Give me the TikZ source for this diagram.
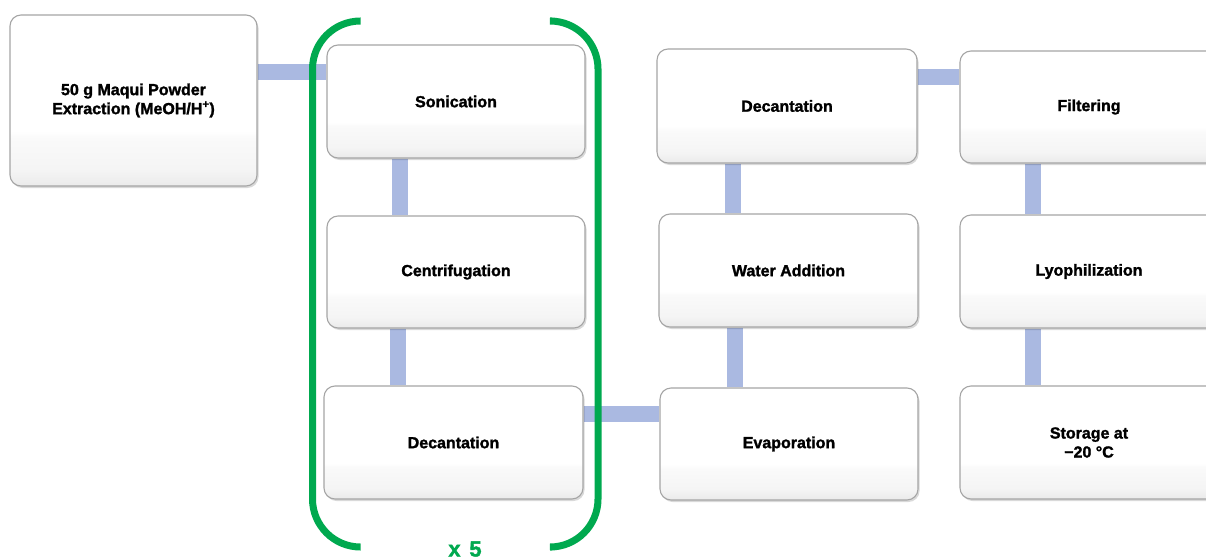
\documentclass[tikz,border=0pt]{standalone}
\usepackage{fontspec}
\setmainfont{Liberation Sans}[BoldFeatures={FakeBold=1.6}]
\usetikzlibrary{shadows}
\pgfdeclarelayer{bg}
\pgfsetlayers{bg,main}
\pgfdeclareverticalshading{boxshade}{100bp}{color(0bp)=(black!10); color(25bp)=(black!8); color(30bp)=(black!4); color(39bp)=(black!2); color(41bp)=(white); color(100bp)=(white)}
\definecolor{connblue}{RGB}{170,185,225}
\definecolor{bracegreen}{RGB}{0,169,79}
\definecolor{boxborder}{RGB}{165,165,165}
\tikzset{
  procbox/.style={draw=boxborder, line width=1.1pt, rounded corners=11pt, shading=boxshade,
    minimum width=258pt, minimum height=113pt, inner sep=0pt, align=center,
    font=\fontsize{16}{19}\selectfont\bfseries,
    drop shadow={shadow xshift=1.5pt, shadow yshift=-2pt, opacity=0.15, fill=black}},
  conn/.style={draw=connblue, line width=16pt},
  bracket/.style={draw=bracegreen, line width=7pt, rounded corners=48pt},
}
\begin{document}
\begin{tikzpicture}[x=1pt,y=-1pt]
\useasboundingbox (0,0) rectangle (1206,559);
\clip (0,0) rectangle (1206,559);
\node[procbox, minimum width=247pt, minimum height=171pt] (A) at (133.5,100.5) {50 g Maqui Powder\\Extraction (MeOH/H\textsuperscript{+})};
\node[procbox] (son) at (456,101.5) {Sonication};
\node[procbox, minimum height=112pt] (cen) at (456,272) {Centrifugation};
\node[procbox, minimum width=259pt] (dec1) at (453.5,442.5) {Decantation};
\node[procbox, minimum width=260pt, minimum height=114pt] (dec2) at (787,106) {Decantation};
\node[procbox, minimum width=259pt] (wat) at (788.5,270.5) {Water Addition};
\node[procbox, minimum height=112pt] (eva) at (789,444) {Evaporation};
\node[procbox, minimum height=112pt] (fil) at (1089,107) {Filtering};
\node[procbox] (lyo) at (1089,271.5) {Lyophilization};
\node[procbox] (sto) at (1089,442.5) {Storage at\\−20 °C};
\begin{pgfonlayer}{bg}
\draw[conn] ([yshift=28pt]A.east) -- ([yshift=29pt]son.west);
\draw[conn] ([xshift=-56pt]son.south) -- ([xshift=-56pt]cen.north);
\draw[conn] ([xshift=-58pt]cen.south) -- ([xshift=-55.5pt]dec1.north);
\draw[conn] ([yshift=28.5pt]dec1.east) -- ([yshift=30pt]eva.west);
\draw[conn] ([xshift=-54pt]dec2.south) -- ([xshift=-55.5pt]wat.north);
\draw[conn] ([xshift=-54pt]wat.south) -- ([xshift=-54.5pt]eva.north);
\draw[conn] ([yshift=28.5pt]dec2.east) -- ([yshift=29.5pt]fil.west);
\draw[conn] ([xshift=-56pt]fil.south) -- ([xshift=-56pt]lyo.north);
\draw[conn] ([xshift=-56pt]lyo.south) -- ([xshift=-56pt]sto.north);
\end{pgfonlayer}
\draw[bracket] (360,21) -- (312.5,21) -- (312.5,547) -- (360,547);
\draw[bracket] (552,21) -- (598,21) -- (598,547) -- (552,547);
\node[font=\fontsize{22}{22}\selectfont\bfseries, text=bracegreen, anchor=base, inner sep=0pt] (x5) at (465,556.5) {x\hspace{0.4em}5};
\end{tikzpicture}
\end{document}
